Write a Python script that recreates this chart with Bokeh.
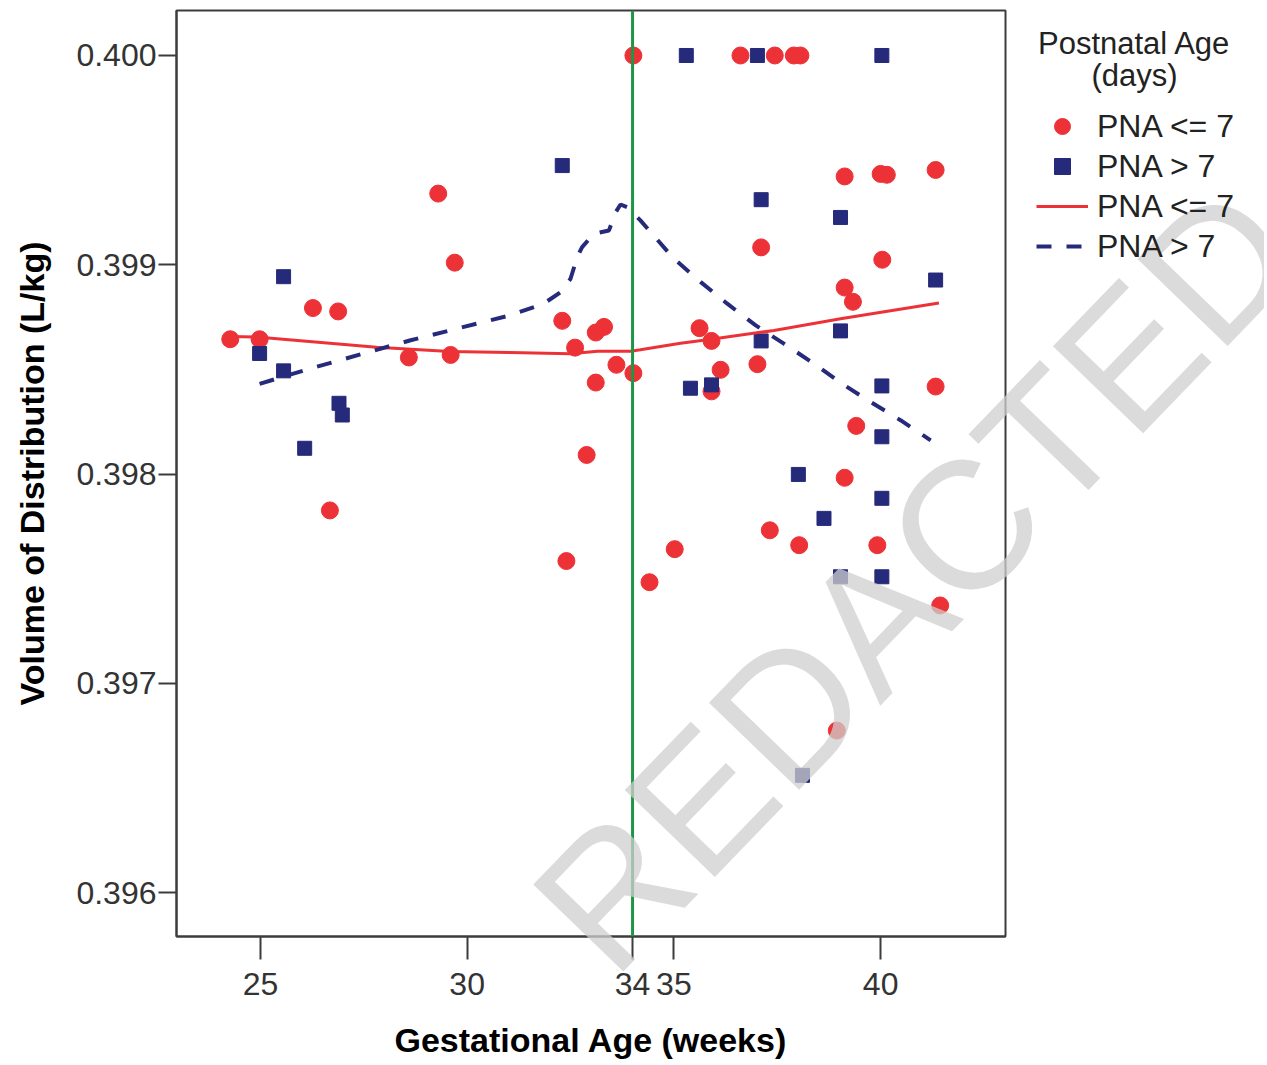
from bokeh.plotting import figure
from bokeh.models import (Range1d, FixedTicker, PrintfTickFormatter, Span, Label, Legend,
                          LegendItem)
from bokeh.embed import file_html
from bokeh.resources import INLINE

# ---- data ----
ga_le7 = [24.27, 24.98, 26.27, 26.88, 26.68, 28.59, 29.30, 29.60, 29.70, 32.30,
          32.61, 33.11, 33.31, 33.61, 33.11, 32.89, 32.40, 34.02, 34.02, 34.41,
          35.02, 35.62, 35.91, 35.91, 36.13, 36.61, 37.44, 37.90, 38.06, 37.02,
          37.11, 37.32, 38.03, 38.94, 39.13, 39.13, 39.33, 39.13, 39.41, 39.92,
          40.04, 40.00, 40.15, 41.33, 41.33, 41.44]
vd_le7 = [0.398644, 0.398644, 0.398793, 0.398777, 0.397826, 0.398557, 0.399340, 0.398569, 0.399010, 0.398732,
          0.398604, 0.398676, 0.398703, 0.398522, 0.398437, 0.398091, 0.397584, 0.400000, 0.398482, 0.397483,
          0.397641, 0.398697, 0.398636, 0.398395, 0.398498, 0.400000, 0.400000, 0.400000, 0.400000, 0.398525,
          0.399083, 0.397731, 0.397660, 0.396774, 0.399422, 0.398891, 0.398823, 0.397982, 0.398230, 0.397660,
          0.399024, 0.399434, 0.399430, 0.399453, 0.398418, 0.397372]

ga_gt7 = [24.98, 25.56, 25.56, 26.07, 26.90, 26.98, 32.30, 35.30, 37.02, 40.03,
          37.11, 37.11, 35.40, 35.91, 39.03, 39.03, 41.33, 40.03, 40.03, 38.01,
          40.03, 38.63, 39.03, 40.03, 38.11]
vd_gt7 = [0.398576, 0.398943, 0.398493, 0.398123, 0.398338, 0.398282, 0.399474, 0.400000, 0.400000, 0.400000,
          0.399311, 0.398636, 0.398410, 0.398426, 0.399226, 0.398684, 0.398927, 0.398421, 0.398178, 0.397998,
          0.397884, 0.397788, 0.397509, 0.397509, 0.396560]

fit_le7_x = [24.26, 24.98, 27.81, 29.58, 31.03, 32.50, 33.15, 33.95, 34.19, 35.16, 35.81, 37.42, 39.03, 41.41]
fit_le7_y = [0.398657, 0.398654, 0.398606, 0.398586, 0.398581, 0.398575, 0.398587, 0.398587, 0.398594,
             0.398625, 0.398642, 0.398686, 0.398742, 0.398817]

fit_gt7_x = [24.98, 26.19, 28.61, 31.03, 31.85, 32.26, 32.50, 32.66, 32.78, 33.06, 33.43, 33.59, 33.71,
             33.87, 34.19, 35.00, 35.65, 36.29, 36.98, 37.66, 38.39, 39.07, 39.76, 40.49, 41.21]
fit_gt7_y = [0.398431, 0.398503, 0.398638, 0.398758, 0.398814, 0.398869, 0.398933, 0.399036, 0.399084,
             0.399148, 0.399164, 0.399251, 0.399288, 0.399275, 0.399212, 0.399029, 0.398917, 0.398814,
             0.398710, 0.398623, 0.398527, 0.398431, 0.398344, 0.398256, 0.398161]

x_ticks = [25, 30, 34, 35, 40]
y_ticks = [0.396, 0.397, 0.398, 0.399, 0.400]
cutoff_ga = 34
legend_labels = ["PNA <= 7", "PNA > 7", "PNA <= 7", "PNA > 7"]

# ---- layout ----
X0, X1 = 22.97, 43.02
Y0, Y1 = 0.395790, 0.400215
W, H = 1264, 1064
FL, FT, FR, FB = 176, 10, 1005, 936

FONT = "Liberation Sans"
RED = "#ED3237"
NAVY = "#262A7A"
GREEN = "#1E9646"
AX = "#3c3c3c"

p = figure(width=W, height=H, output_backend="svg", toolbar_location=None,
           x_range=Range1d(X0, X1), y_range=Range1d(Y0, Y1),
           min_border_left=FL, min_border_right=W - FR,
           min_border_top=FT, min_border_bottom=H - FB)
p.grid.visible = False
p.background_fill_color = "white"
p.border_fill_color = "white"
p.outline_line_color = AX
p.outline_line_width = 2

for ax in (p.xaxis[0], p.yaxis[0]):
    ax.axis_line_color = AX
    ax.axis_line_width = 2
    ax.major_tick_line_color = AX
    ax.major_tick_line_width = 2
    ax.major_tick_in = 0
    ax.minor_tick_line_color = None
    ax.major_label_text_font = FONT
    ax.major_label_text_font_size = "32px"
    ax.major_label_text_color = "#333333"
    ax.axis_label_text_font = FONT
    ax.axis_label_text_font_size = "34px"
    ax.axis_label_text_font_style = "bold"
    ax.axis_label_text_color = "black"

p.xaxis.ticker = FixedTicker(ticks=x_ticks)
p.xaxis.major_tick_out = 23
p.xaxis.major_label_standoff = 13
p.xaxis.axis_label = "Gestational Age (weeks)"
p.xaxis.axis_label_standoff = 23
p.yaxis.ticker = FixedTicker(ticks=y_ticks)
p.yaxis.formatter = PrintfTickFormatter(format="%.3f")
p.yaxis.major_tick_out = 18
p.yaxis.major_label_standoff = 2
p.yaxis.axis_label = "Volume of Distribution (L/kg)"
p.yaxis.axis_label_standoff = 22

p.scatter(ga_le7, vd_le7, marker="circle", size=17, fill_color=RED, line_color=RED)
p.scatter(ga_gt7, vd_gt7, marker="square", size=14, fill_color=NAVY, line_color=NAVY)
p.line(fit_le7_x, fit_le7_y, line_color=RED, line_width=3)
p.line(fit_gt7_x, fit_gt7_y, line_color=NAVY, line_width=4, line_dash="15 15")
p.add_layout(Span(location=cutoff_ga, dimension="height", line_color=GREEN, line_width=3))

# ---- transparent overlay (legend, legend title, watermark) in page pixels ----
ov = figure(width=W, height=H, output_backend="svg", toolbar_location=None,
            x_range=Range1d(0, W), y_range=Range1d(H, 0),
            x_axis_location=None, y_axis_location=None,
            min_border_left=0, min_border_right=0, min_border_top=0, min_border_bottom=0,
            styles={"position": "absolute", "left": "0px", "top": "0px", "z-index": "5"})
ov.grid.visible = False
ov.outline_line_color = None
ov.background_fill_alpha = 0
ov.border_fill_alpha = 0

# legend keys: one off-canvas sample each, so the legend has something to style from
OFF = [-500]
k_red = ov.scatter(OFF, OFF, marker="circle", size=17, fill_color=RED, line_color=RED)
k_blue = ov.scatter(OFF, OFF, marker="square", size=14, fill_color=NAVY, line_color=NAVY)
k_rline = ov.line(OFF * 2, OFF * 2, line_color=RED, line_width=3)
k_bline = ov.line(OFF * 2, OFF * 2, line_color=NAVY, line_width=4, line_dash="15 15")

legend = Legend(items=[LegendItem(label=legend_labels[0], renderers=[k_red]),
                       LegendItem(label=legend_labels[1], renderers=[k_blue]),
                       LegendItem(label=legend_labels[2], renderers=[k_rline]),
                       LegendItem(label=legend_labels[3], renderers=[k_bline])],
                location=(1026, H - 96 - 180), margin=0, padding=10, spacing=0,
                glyph_width=52, glyph_height=40, label_height=40, label_standoff=9,
                label_text_font=FONT, label_text_font_size="32px", label_text_color="#222222",
                background_fill_alpha=0, border_line_alpha=0)
ov.add_layout(legend)

for t, py in (("Postnatal Age", 43), ("(days)", 75)):
    ov.add_layout(Label(x=1134, y=py, text=t, text_font=FONT, text_font_size="31px",
                        text_color="#222222", text_align="center", text_baseline="middle"))

ov.add_layout(Label(x=915, y=578, text="REDACTED", angle=46, angle_units="deg",
                    text_font=FONT, text_font_size="182px", text_color="#cfcfcf",
                    text_alpha=0.75, text_align="center", text_baseline="middle"))

open("out.html", "w").write(file_html([p, ov], INLINE))
